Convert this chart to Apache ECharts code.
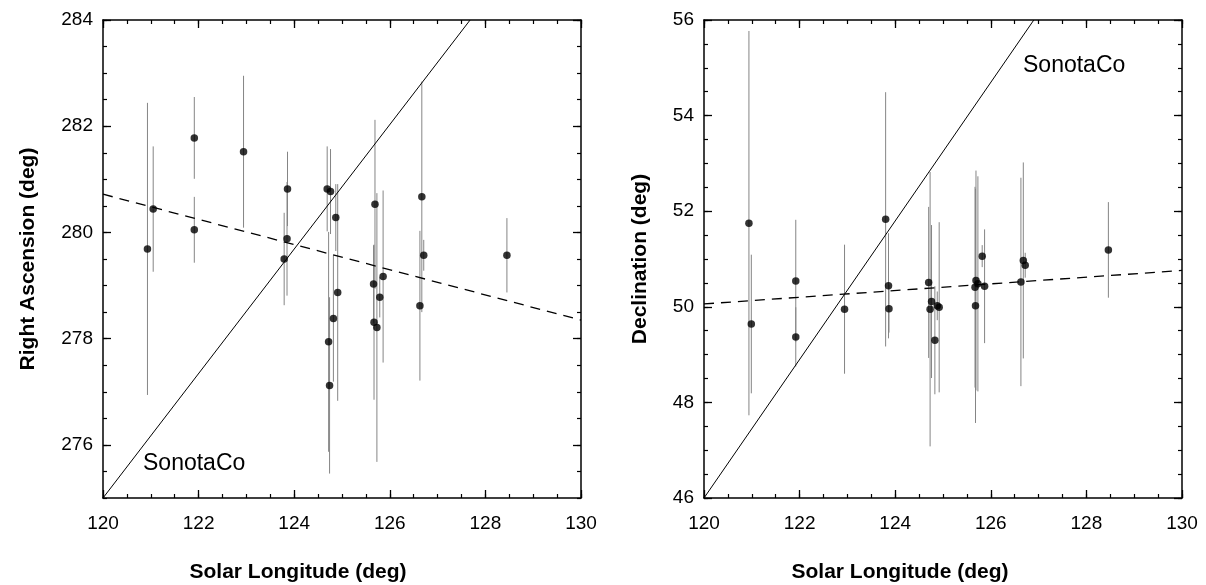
<!DOCTYPE html>
<html>
<head>
<meta charset="utf-8">
<script src="https://cdn.jsdelivr.net/npm/echarts@6/dist/echarts.min.js"></script>
<style>
  html, body { margin: 0; padding: 0; background: #fff; }
  #chart { width: 1206px; height: 585px; }
</style>
</head>
<body>
<div id="chart"></div>
<script>
// Right ascension panel
var raLon = [120.93, 121.05, 121.91, 121.91, 122.94, 123.86, 123.85, 123.79, 124.69, 124.76, 124.87, 124.91, 124.82,
    124.72, 124.74, 125.69, 125.66, 125.86, 125.79, 125.67, 125.73, 126.67, 126.63, 126.71, 128.45];
var raVal = [279.69, 280.44, 281.78, 280.05, 281.52, 280.82, 279.88, 279.50, 280.82, 280.77, 280.28, 278.87, 278.38,
    277.94, 277.12, 280.53, 279.03, 279.17, 278.78, 278.31, 278.21, 280.67, 278.62, 279.57, 279.57];
var raErr = [2.75, 1.18, 0.77, 0.62, 1.43, 0.70, 1.07, 0.87, 0.80, 0.80, 0.63, 2.04, 1.19,
    2.07, 1.66, 1.59, 0.73, 1.62, 0.38, 1.46, 2.53, 2.17, 1.41, 0.29, 0.70];
var raTrend = [[120, 280.72], [130, 278.35]];
var raSonota = [[120, 275], [127.68, 284]];

// Declination panel
var decLon = [120.94, 120.99, 121.92, 121.92, 122.94, 123.80, 123.86, 123.87, 124.70, 124.76, 124.73, 124.83,
    124.88, 124.92, 125.69, 125.73, 125.67, 125.87, 125.82, 125.68, 126.63, 126.68, 126.72, 128.46];
var decVal = [51.75, 49.64, 50.54, 49.37, 49.95, 51.83, 50.44, 49.96, 50.51, 50.11, 49.95, 49.30,
    50.02, 49.99, 50.55, 50.48, 50.41, 50.43, 51.06, 50.02, 50.52, 50.97, 50.87, 51.19];
var decErr = [4.02, 1.45, 1.28, 0.62, 1.35, 2.66, 1.10, 0.50, 1.58, 1.60, 2.87, 1.13,
    0.30, 1.78, 2.30, 2.25, 2.10, 1.19, 0.23, 2.45, 2.18, 2.05, 0.26, 1.00];
var decTrend = [[120, 50.06], [130, 50.76]];
var decSonota = [[120, 46], [126.9, 56]];

var lonTicks = [120, 122, 124, 126, 128, 130];
var raTicks = [276, 278, 280, 282, 284];
var decTicks = [46, 48, 50, 52, 54, 56];

var FONT = '"Liberation Sans", Arial, sans-serif';

function steps(min, max, step) {
    var out = [];
    for (var v = min; v <= max + 1e-9; v += step) out.push(Math.round(v * 100) / 100);
    return out;
}

// two axes per side: one with long ticks (and labels), one with short ticks every half unit
function sideAxes(grid, pos, min, max, majors, showLabel) {
    var base = {
        type: 'value', gridIndex: grid, position: pos, min: min, max: max,
        splitLine: { show: false }
    };
    var major = Object.assign({}, base, {
        axisLine: { show: true, onZero: false, lineStyle: { color: '#000', width: 1.5 } },
        axisTick: { show: true, inside: true, length: 8, customValues: majors, lineStyle: { color: '#000', width: 1.3 } },
        axisLabel: {
            show: showLabel, customValues: majors, color: '#000', fontSize: 19, fontFamily: FONT,
            margin: (pos === 'bottom') ? 16 : 10
        }
    });
    var minor = Object.assign({}, base, {
        axisLine: { show: false },
        axisTick: { show: true, inside: true, length: 4, customValues: steps(min, max, 0.5), lineStyle: { color: '#000', width: 1.2 } },
        axisLabel: { show: false }
    });
    return [major, minor];
}

function errorData(lon, val, err) {
    return lon.map(function (x, i) {
        return [x, val[i] - err[i], val[i] + err[i]];
    });
}

function renderBar(params, api) {
    var p1 = api.coord([api.value(0), api.value(1)]);
    var p2 = api.coord([api.value(0), api.value(2)]);
    return {
        type: 'line',
        shape: { x1: p1[0], y1: p1[1], x2: p2[0], y2: p2[1] },
        style: { stroke: '#858585', lineWidth: 1 }
    };
}

function panelSeries(xi, yi, lon, val, err, trend, sonota) {
    return [
        {
            type: 'custom', xAxisIndex: xi, yAxisIndex: yi, clip: true, silent: true,
            renderItem: renderBar, encode: { x: 0, y: [1, 2] },
            data: errorData(lon, val, err), z: 1
        },
        {
            type: 'line', xAxisIndex: xi, yAxisIndex: yi, data: sonota, showSymbol: false, silent: true,
            lineStyle: { color: '#000', width: 1 }, z: 2
        },
        {
            type: 'line', xAxisIndex: xi, yAxisIndex: yi, data: trend, showSymbol: false, silent: true,
            lineStyle: { color: '#000', width: 1.3, type: [10, 7] }, z: 2
        },
        {
            type: 'scatter', xAxisIndex: xi, yAxisIndex: yi, symbolSize: 7.5, silent: true,
            itemStyle: { color: '#000' },
            data: lon.map(function (x, i) { return [x, val[i]]; }), z: 3
        }
    ];
}

var xAxes = [].concat(
    sideAxes(0, 'bottom', 120, 130, lonTicks, true), sideAxes(0, 'top', 120, 130, lonTicks, false),
    sideAxes(1, 'bottom', 120, 130, lonTicks, true), sideAxes(1, 'top', 120, 130, lonTicks, false)
);
var yAxes = [].concat(
    sideAxes(0, 'left', 275, 284, raTicks, true), sideAxes(0, 'right', 275, 284, raTicks, false),
    sideAxes(1, 'left', 46, 56, decTicks, true), sideAxes(1, 'right', 46, 56, decTicks, false)
);

function title(text, x, y, rot) {
    return {
        type: 'text', x: x, y: y, rotation: rot || 0,
        style: {
            text: text, fill: '#000', font: 'bold 21px ' + FONT,
            align: 'center', verticalAlign: 'middle'
        }
    };
}

function note(text, x, y) {
    return {
        type: 'text', x: x, y: y,
        style: { text: text, fill: '#000', font: '23px ' + FONT, align: 'left', verticalAlign: 'middle' }
    };
}

var chart = echarts.init(document.getElementById('chart'));
chart.setOption({
    animation: false,
    backgroundColor: '#fff',
    grid: [
        { left: 103, top: 20, width: 478, height: 478 },
        { left: 704, top: 20, width: 478, height: 478 }
    ],
    xAxis: xAxes,
    yAxis: yAxes,
    series: [].concat(
        panelSeries(0, 0, raLon, raVal, raErr, raTrend, raSonota),
        panelSeries(4, 4, decLon, decVal, decErr, decTrend, decSonota)
    ),
    graphic: [
        title('Right Ascension (deg)', 28, 259, Math.PI / 2),
        title('Declination (deg)', 640, 259, Math.PI / 2),
        title('Solar Longitude (deg)', 298, 572),
        title('Solar Longitude (deg)', 900, 572),
        note('SonotaCo', 143, 464),
        note('SonotaCo', 1023, 66)
    ]
});
</script>
</body>
</html>
